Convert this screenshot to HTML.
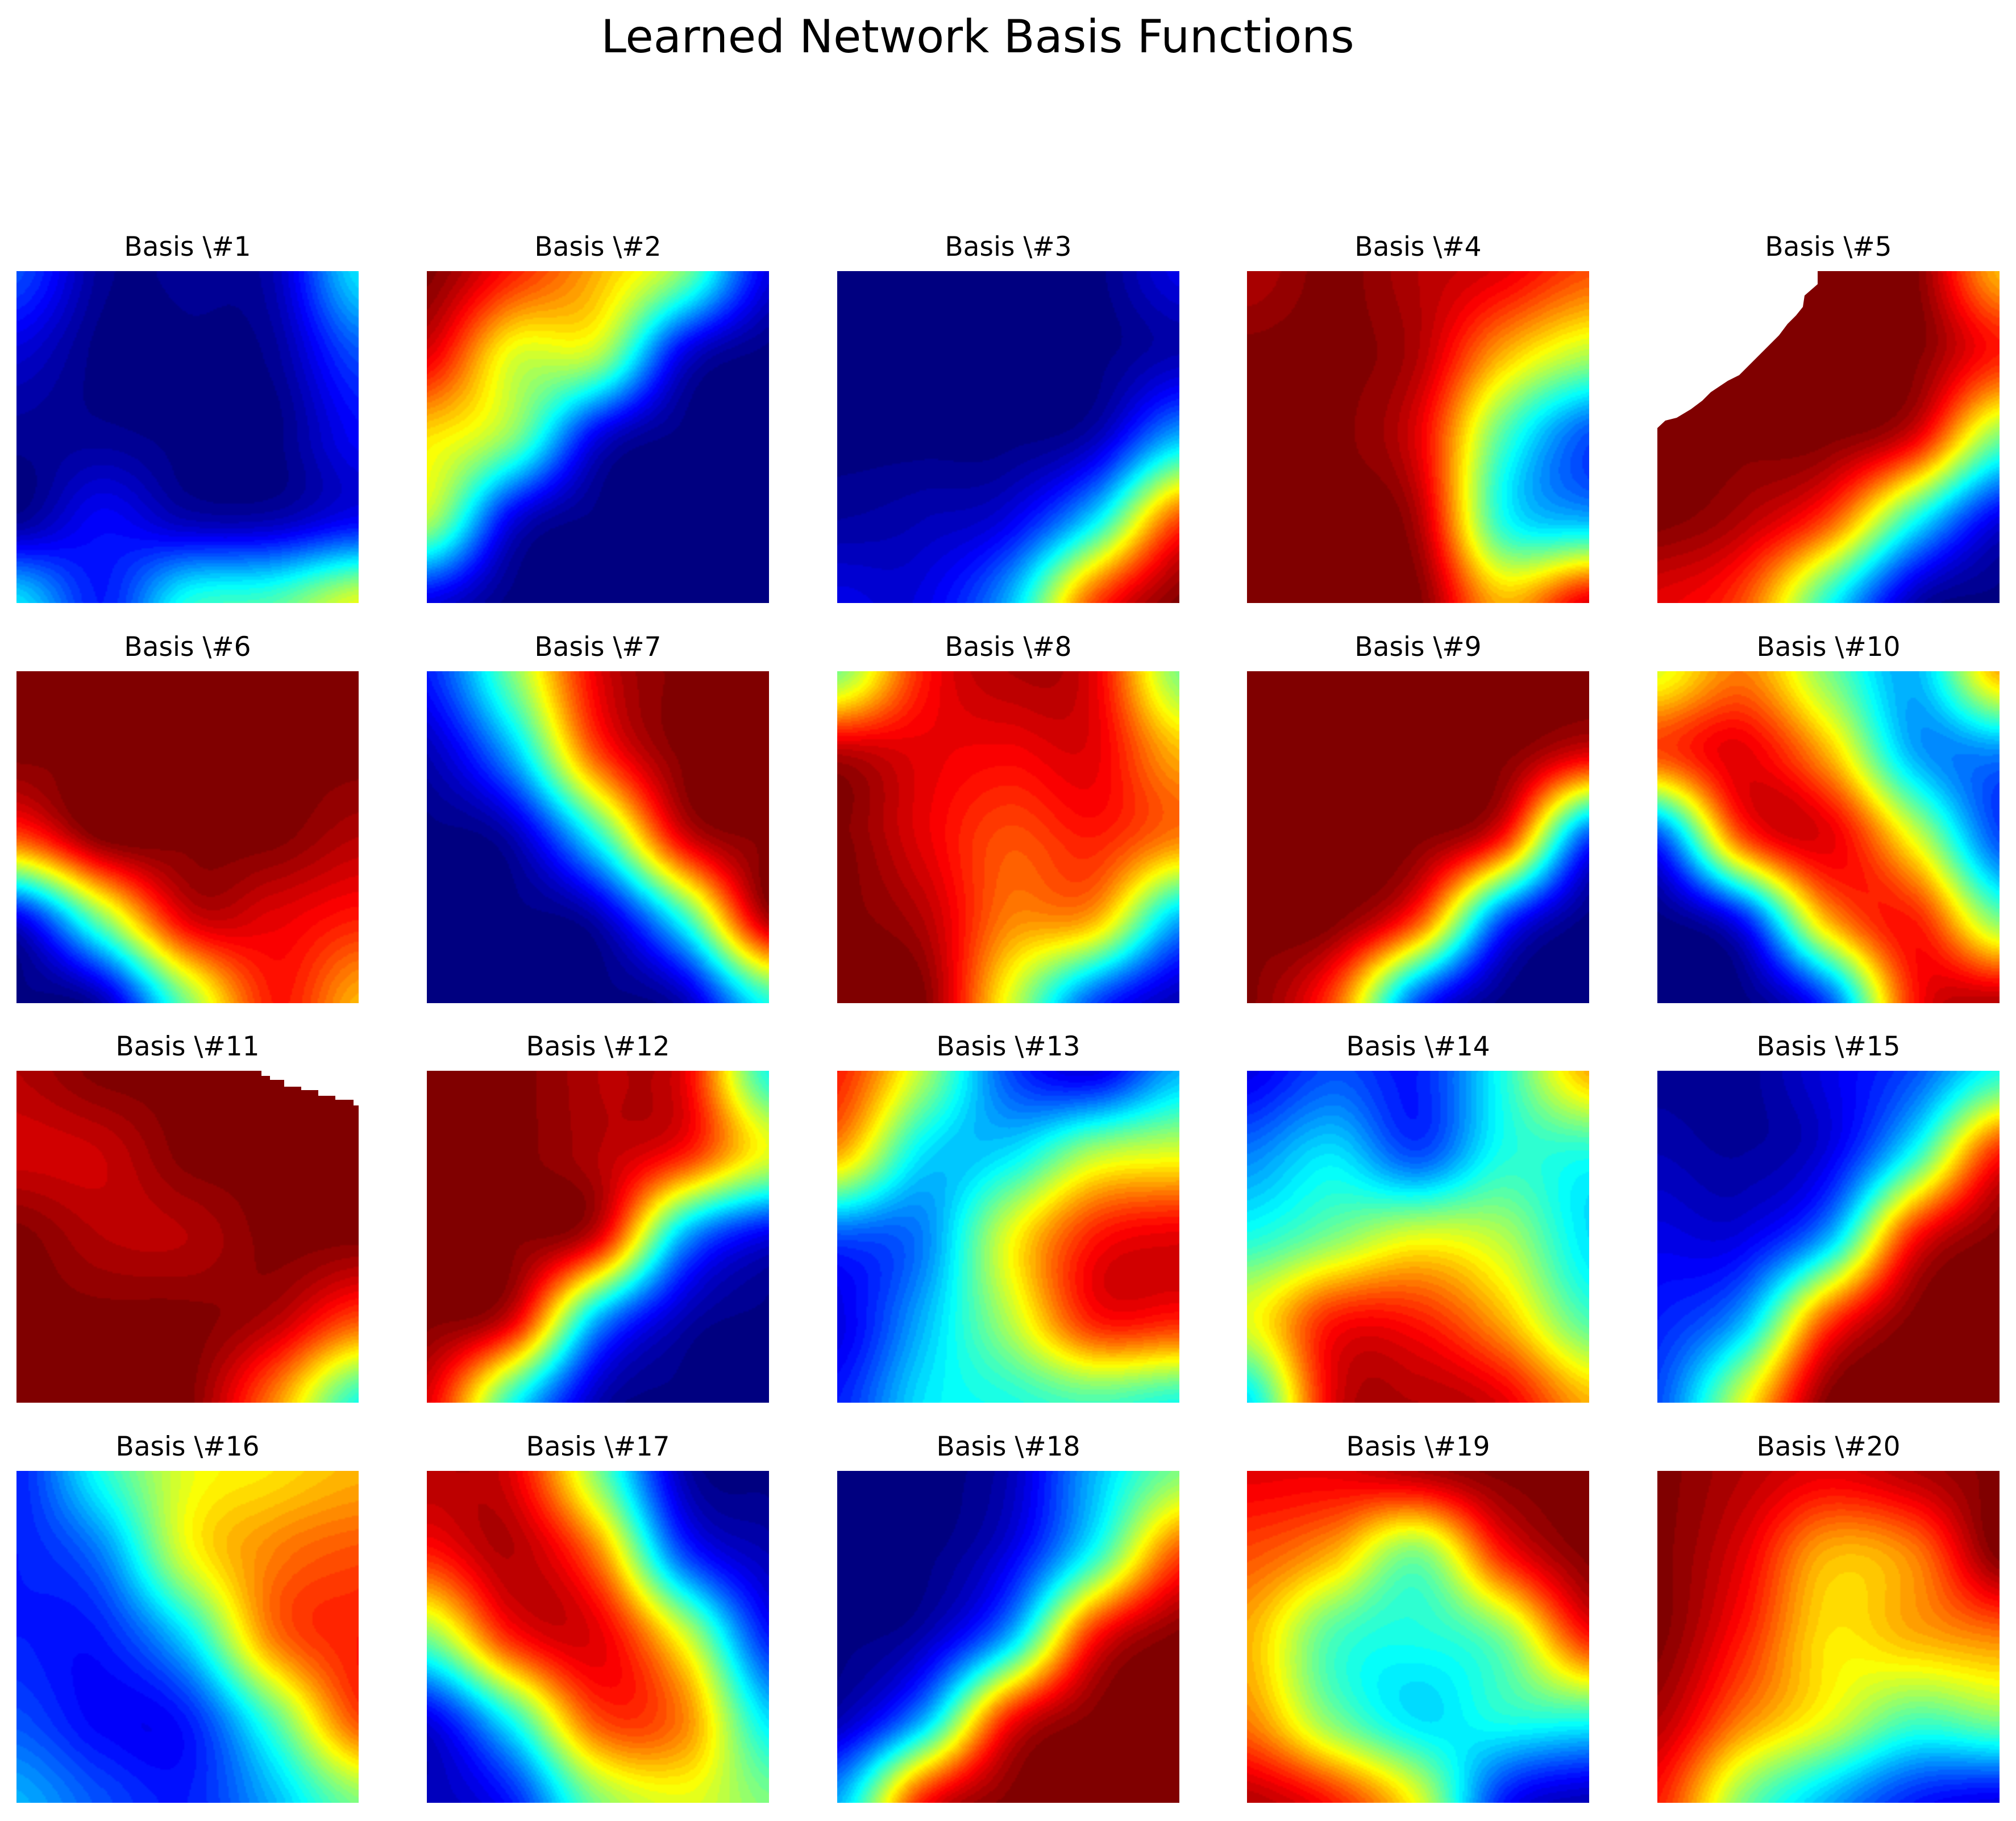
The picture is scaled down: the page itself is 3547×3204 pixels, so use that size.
<!DOCTYPE html>
<html><head><meta charset="utf-8">
<style>
body{margin:0;background:#fff;width:3547px;height:3204px;position:relative;overflow:hidden;font-family:"Liberation Sans","DejaVu Sans",sans-serif}
.t{position:absolute;font-family:"DejaVu Sans","Liberation Sans",sans-serif;color:#000;text-align:center;white-space:nowrap}
canvas{position:absolute}
svg{position:absolute;left:0;top:0}
</style></head>
<body>
<div class="t" style="left:0;width:3440px;top:18px;font-size:80px;">Learned Network Basis Functions</div>
<script>
const titles=["Basis \\#1","Basis \\#2","Basis \\#3","Basis \\#4","Basis \\#5","Basis \\#6","Basis \\#7","Basis \\#8","Basis \\#9","Basis \\#10","Basis \\#11","Basis \\#12","Basis \\#13","Basis \\#14","Basis \\#15","Basis \\#16","Basis \\#17","Basis \\#18","Basis \\#19","Basis \\#20"];
const g1=[[0.2,0.02,0.02,0.05,0.35],[0.08,0,0,0.02,0.2],[0.02,0.02,0,0,0.12],[0.02,0.12,0.05,0.05,0.12],[0.35,0.15,0.4,0.45,0.6]];
const g2=[[1,0.85,0.7,0.5,0.1],[0.9,0.6,0.55,0.1,0],[0.65,0.5,0.1,0,0],[0.55,0.1,0,0,0],[0.1,0,0,0,0]];
const g3=[[0,0,0,0,0.1],[0,0,0,0,0.05],[0,0,0,0.05,0.3],[0.03,0.05,0.1,0.35,0.8],[0.1,0.1,0.3,0.8,1]];
const g4=[[0.95,1,0.95,0.9,0.8],[1,1,0.95,0.7,0.55],[1,1,0.9,0.45,0.2],[1,1,0.95,0.4,0.3],[1,1,1,0.7,0.9]];
const g5=[[1,1,1,1,0.7],[1,1,1,1,0.85],[1,1,1,0.9,0.5],[1,0.95,0.8,0.4,0.1],[0.9,0.8,0.4,0.05,0]];
const g6=[[1,1,1,1,1],[1,1,1,1,1],[0.8,1,1,1,0.95],[0.1,0.5,0.9,0.9,0.85],[0,0.05,0.5,0.85,0.7]];
const g7=[[0.15,0.5,0.9,1,1],[0.05,0.3,0.8,1,1],[0,0.05,0.4,0.9,1],[0,0,0.05,0.4,0.95],[0,0,0,0.05,0.4]];
const g8=[[0.5,0.85,0.95,0.9,0.5],[0.95,0.9,0.88,0.9,0.7],[1,0.9,0.8,0.85,0.75],[1,0.95,0.75,0.7,0.3],[1,1,0.6,0.2,0.05]];
const g9=[[1,1,1,1,1],[1,1,1,1,0.9],[1,1,1,0.85,0.2],[1,1,0.8,0.2,0],[1,0.8,0.2,0,0]];
const g10=[[0.6,0.75,0.5,0.3,0.7],[0.8,0.9,0.7,0.3,0.25],[0.2,0.8,0.9,0.6,0.2],[0,0.15,0.7,0.85,0.5],[0,0,0.2,0.85,0.95]];
const g11=[[0.95,1,1,1,1],[0.92,0.93,1,1,1],[1,0.95,0.95,1,1],[1,1,1,0.95,0.8],[1,1,1,0.75,0.4]];
const g12=[[1,1,0.95,0.9,0.4],[1,1,0.95,0.85,0.6],[1,1,0.9,0.3,0.1],[1,0.9,0.3,0.05,0],[0.9,0.4,0.05,0,0]];
const g13=[[0.85,0.55,0.2,0.1,0.3],[0.7,0.35,0.35,0.55,0.6],[0.2,0.25,0.6,0.85,0.9],[0.1,0.3,0.55,0.85,0.85],[0.15,0.35,0.4,0.45,0.4]];
const g14=[[0.1,0.2,0.15,0.4,0.7],[0.25,0.35,0.2,0.4,0.4],[0.4,0.5,0.6,0.55,0.35],[0.6,0.85,0.85,0.7,0.45],[0.35,0.9,0.95,0.9,0.7]];
const g15=[[0.02,0.02,0.1,0.2,0.4],[0.05,0.03,0.1,0.4,0.85],[0.1,0.1,0.3,0.85,1],[0.15,0.3,0.8,1,1],[0.2,0.6,1,1,1]];
const g16=[[0.15,0.4,0.6,0.65,0.7],[0.15,0.25,0.6,0.75,0.8],[0.15,0.15,0.35,0.75,0.85],[0.2,0.12,0.15,0.45,0.8],[0.3,0.2,0.15,0.3,0.5]];
const g17=[[0.95,0.9,0.5,0.05,0],[0.85,0.95,0.75,0.2,0.05],[0.5,0.85,0.9,0.6,0.15],[0.1,0.4,0.8,0.75,0.35],[0.05,0.15,0.5,0.6,0.5]];
const g18=[[0,0,0.05,0.3,0.5],[0,0,0.1,0.4,0.8],[0,0.05,0.3,0.85,1],[0.05,0.3,0.85,1,1],[0.3,0.85,1,1,1]];
const g19=[[0.9,0.9,0.95,1,1],[0.8,0.7,0.5,0.85,1],[0.7,0.45,0.4,0.5,0.85],[0.75,0.5,0.35,0.4,0.4],[0.95,0.85,0.6,0.15,0.05]];
const g20=[[1,0.95,0.9,0.95,1],[1,0.9,0.7,0.75,1],[1,0.85,0.65,0.7,0.75],[0.95,0.75,0.6,0.45,0.5],[0.85,0.5,0.3,0.15,0.1]];
const grids=[g1,g2,g3,g4,g5,g6,g7,g8,g9,g10,g11,g12,g13,g14,g15,g16,g17,g18,g19,g20];

const colX=[29,751,1473,2194,2916], rowY=[477,1181,1884,2588], PW=602, PH=584;
function jet(v){v=Math.max(0,Math.min(1,v));
 const r=Math.min(Math.max(Math.min(4*v-1.5,-4*v+4.5),0),1);
 const g=Math.min(Math.max(Math.min(4*v-0.5,-4*v+3.5),0),1);
 const b=Math.min(Math.max(Math.min(4*v+0.5,-4*v+2.5),0),1);
 return [r*255,g*255,b*255];}
function cr(p0,p1,p2,p3,t){return 0.5*((2*p1)+(-p0+p2)*t+(2*p0-5*p1+4*p2-p3)*t*t+(-p0+3*p1-3*p2+p3)*t*t*t);}
function at(gr,j,i){const n=gr.length-1;j=Math.max(0,Math.min(n,j));i=Math.max(0,Math.min(n,i));return gr[j][i];}
function sample(gr,u,v){const n=gr.length-1;const x=u*n,y=v*n;
 let i=Math.min(Math.floor(x),n-1),j=Math.min(Math.floor(y),n-1);
 const fx=x-i,fy=y-j;const rows=[];
 for(let dj=-1;dj<=2;dj++){rows.push(cr(at(gr,j+dj,i-1),at(gr,j+dj,i),at(gr,j+dj,i+1),at(gr,j+dj,i+2),fx));}
 return cr(rows[0],rows[1],rows[2],rows[3],fy);}
const R=200;
grids.forEach((gr,k)=>{
 const c=k%5,r=Math.floor(k/5);
 const t=document.createElement('div');
 t.className='t';
 
 
 t.style.left=(colX[c]-100)+'px';t.style.width=(PW+200)+'px';t.style.top=(rowY[r]-70)+'px';t.style.fontSize='47px';
 t.textContent=titles[k];document.body.appendChild(t);
 const cv=document.createElement('canvas');
 
 
 cv.width=R;cv.height=R;cv.style.left=colX[c]+'px';cv.style.top=rowY[r]+'px';cv.style.width=PW+'px';cv.style.height=PH+'px';
 const ctx=cv.getContext('2d');const im=ctx.createImageData(R,R);
 for(let y=0;y<R;y++)for(let x=0;x<R;x++){const val=sample(gr,x/(R-1),y/(R-1));const q=Math.round(val*50)/50;const col=jet(q);const p=(y*R+x)*4;im.data[p]=col[0];im.data[p+1]=col[1];im.data[p+2]=col[2];im.data[p+3]=255;}
 ctx.putImageData(im,0,0);document.body.appendChild(cv);
});
</script>
<svg width="3547" height="3204">
<polygon fill="#fff" points="2914,476 3198,476 3198,500 3175,520 3172,540 3160,555 3145,570 3130,590 3115,605 3095,625 3080,640 3060,660 3040,670 3010,690 2995,705 2975,720 2950,735 2930,740 2914,755"/>
<polygon fill="#fff" points="460,1882 633,1882 633,1945 622,1945 622,1935 590,1935 590,1928 560,1928 560,1918 530,1918 530,1912 500,1912 500,1900 475,1900 475,1893 460,1893"/>
</svg>
</body></html>
